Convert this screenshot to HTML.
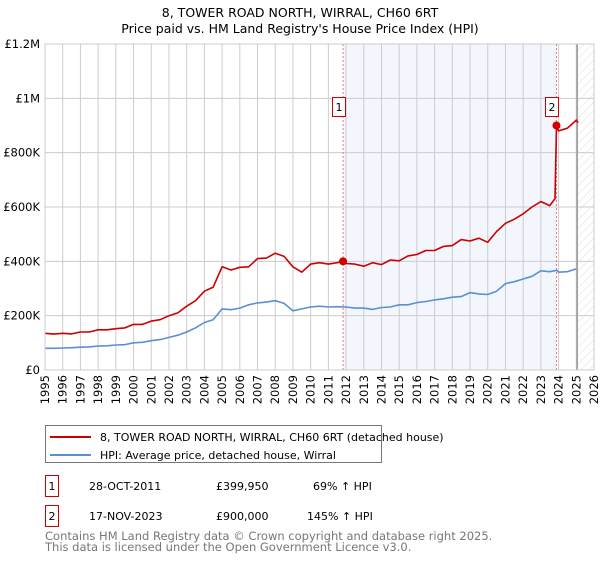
<!DOCTYPE html>
<html><head><meta charset="utf-8"><style>
body{margin:0;background:#fff;font-family:"DejaVu Sans","Liberation Sans",sans-serif;}
</style></head><body>
<svg width="600" height="560" viewBox="0 0 600 560" xmlns="http://www.w3.org/2000/svg" font-family="DejaVu Sans, Liberation Sans, sans-serif">
<text x="300" y="17" text-anchor="middle" font-size="12.5">8, TOWER ROAD NORTH, WIRRAL, CH60 6RT</text>
<text x="300" y="33" text-anchor="middle" font-size="12.5">Price paid vs. HM Land Registry's House Price Index (HPI)</text>
<g id="plot"></g>
<g>
<rect x="45.5" y="425.5" width="336" height="37" fill="#fff" stroke="#777"/>
<line x1="50" y1="437" x2="91" y2="437" stroke="#cc0000" stroke-width="2"/>
<text x="100" y="441" font-size="11">8, TOWER ROAD NORTH, WIRRAL, CH60 6RT (detached house)</text>
<line x1="50" y1="455" x2="91" y2="455" stroke="#5b8fd4" stroke-width="2"/>
<text x="100" y="459" font-size="11">HPI: Average price, detached house, Wirral</text>
</g>
<g font-size="11">
<rect x="45.5" y="475.5" width="13" height="21" fill="none" stroke="#cc0000"/>
<text x="52" y="490" text-anchor="middle">1</text>
<text x="89" y="490">28-OCT-2011</text>
<text x="216" y="490">£399,950</text>
<text x="313" y="490">69% ↑ HPI</text>
<rect x="45.5" y="505.5" width="13" height="21" fill="none" stroke="#cc0000"/>
<text x="52" y="520" text-anchor="middle">2</text>
<text x="89" y="520">17-NOV-2023</text>
<text x="216" y="520">£900,000</text>
<text x="307" y="520">145% ↑ HPI</text>
</g>
<text x="45" y="540" font-size="11.5" fill="#777">Contains HM Land Registry data © Crown copyright and database right 2025.</text>
<text x="45" y="551" font-size="11.5" fill="#777">This data is licensed under the Open Government Licence v3.0.</text>
</svg>
<script>
const hpiYears=[1995,1995.5,1996,1996.5,1997,1997.5,1998,1998.5,1999,1999.5,2000,2000.5,2001,2001.5,2002,2002.5,2003,2003.5,2004,2004.5,2005,2005.5,2006,2006.5,2007,2007.5,2008,2008.5,2009,2009.5,2010,2010.5,2011,2011.5,2012,2012.5,2013,2013.5,2014,2014.5,2015,2015.5,2016,2016.5,2017,2017.5,2018,2018.5,2019,2019.5,2020,2020.5,2021,2021.5,2022,2022.5,2023,2023.5,2023.9,2024,2024.5,2025];
const hpiValues=[80,80,81,82,84,85,88,89,92,93,100,102,108,112,120,128,140,155,175,185,225,222,228,240,247,250,255,245,218,225,232,235,232,233,232,228,228,223,230,232,240,240,248,252,258,262,268,270,285,280,278,290,318,325,335,345,365,362,367,360,362,372];
const priceYears=[1995,1995.5,1996,1996.5,1997,1997.5,1998,1998.5,1999,1999.5,2000,2000.5,2001,2001.5,2002,2002.5,2003,2003.5,2004,2004.5,2005,2005.5,2006,2006.5,2007,2007.5,2008,2008.5,2009,2009.5,2010,2010.5,2011,2011.5,2011.83,2012,2012.5,2013,2013.5,2014,2014.5,2015,2015.5,2016,2016.5,2017,2017.5,2018,2018.5,2019,2019.5,2020,2020.5,2021,2021.5,2022,2022.5,2023,2023.5,2023.8,2023.88,2024,2024.5,2025,2025.1];
const priceValues=[135,132,135,133,140,140,148,148,152,155,168,168,180,185,200,210,235,255,290,305,380,368,378,380,410,412,430,418,380,360,390,395,390,395,400,392,390,382,395,388,405,402,420,425,440,440,455,458,480,475,485,470,510,540,555,575,600,620,605,630,900,880,890,920,910];
const saleYears=[2011.83,2023.88];
const saleValues=[399.95,900];
const yTicks=[0,200,400,600,800,1000,1200];
const yTickLabels=["£0","£200K","£400K","£600K","£800K","£1M","£1.2M"];
const xTicks=[1995,1996,1997,1998,1999,2000,2001,2002,2003,2004,2005,2006,2007,2008,2009,2010,2011,2012,2013,2014,2015,2016,2017,2018,2019,2020,2021,2022,2023,2024,2025,2026];
const X0=45,X1=594,Y0=370,Y1=44;
const xs=y=>X0+(y-1995)/(2026-1995)*(X1-X0);
const ys=v=>Y0-v/1200*(Y0-Y1);
const NS="http://www.w3.org/2000/svg";
const g=document.getElementById('plot');
function mk(t,a,p){const e=document.createElementNS(NS,t);for(const k in a)e.setAttribute(k,a[k]);(p||g).appendChild(e);return e;}
let e=mk('rect',{x:xs(2011.83),y:Y1,width:xs(2023.88)-xs(2011.83),height:Y0-Y1,fill:'#f3f6fd'});


const defs=mk('defs',{});
const pat=mk('pattern',{id:'hatch',width:6,height:6,patternUnits:'userSpaceOnUse',patternTransform:'rotate(45)'},defs);
mk('line',{x1:0,y1:0,x2:0,y2:6,stroke:'#ddd','stroke-width':1},pat);
e=mk('rect',{x:xs(2025.05),y:Y1,width:X1-xs(2025.05),height:Y0-Y1,fill:'url(#hatch)'});


xTicks.forEach((t,i)=>{
 const l=mk('line',{x1:xs(t),x2:xs(t),y1:Y1,y2:Y0,stroke:'#ccc','stroke-width':1});
 
 
 const tx=mk('text',{x:0,y:0,'font-size':11.5,'text-anchor':'end',transform:`translate(${xs(t)+4},375) rotate(-90)`});
 tx.textContent=String(t);
 
 
});
yTicks.forEach((t,i)=>{
 const l=mk('line',{x1:X0,x2:X1,y1:ys(t),y2:ys(t),stroke:'#ccc','stroke-width':1});
 
 
 const tx=mk('text',{x:40,y:ys(t)+4,'font-size':11.5,'text-anchor':'end'});
 tx.textContent=yTickLabels[i];
 
 
});
e=mk('line',{x1:xs(2025.05),x2:xs(2025.05),y1:Y1,y2:Y0,stroke:'#999','stroke-width':1.5});


saleYears.forEach((s,i)=>{
 const l=mk('line',{x1:xs(s),x2:xs(s),y1:Y1,y2:Y0,stroke:'#f07070','stroke-dasharray':'2,2','stroke-width':1});
 
 
});
function path(xa,va,col,name){
 const d=xa.map((x,i)=>(i?'L':'M')+xs(x).toFixed(1)+','+ys(va[i]).toFixed(1)).join('');
 const p=mk('path',{d:d,fill:'none',stroke:col,'stroke-width':1.6,'stroke-linejoin':'round'});
 
 
}
path(hpiYears,hpiValues,'#5b8fd4','hpi-line');
path(priceYears,priceValues,'#cc0000','price-line');
saleYears.forEach((s,i)=>{
 const c=mk('circle',{cx:xs(s),cy:ys(saleValues[i]),r:4,fill:'#cc0000'});
 
 
 const r=mk('rect',{x:Math.round(xs(s))-10.5,y:97.5,width:13,height:19,fill:'#fff',stroke:'#cc0000'});
 
 
 const t=mk('text',{x:Math.round(xs(s))-4,y:111,'font-size':11,'text-anchor':'middle'});
 t.textContent=String(i+1);
 
 
});
e=mk('rect',{x:X0,y:Y1,width:X1-X0,height:Y0-Y1,fill:'none',stroke:'#ccc'});


</script>
</body></html>
